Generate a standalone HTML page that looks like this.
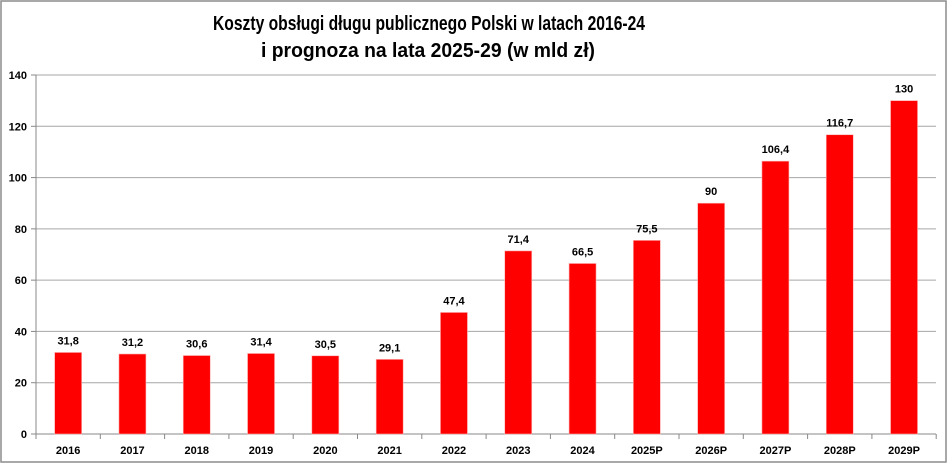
<!DOCTYPE html>
<html><head><meta charset="utf-8"><style>
html,body{margin:0;padding:0;background:#fff;}
svg{display:block;font-family:"Liberation Sans",sans-serif;}
</style></head><body>
<svg id="c" width="948" height="464" viewBox="0 0 948 464" xmlns="http://www.w3.org/2000/svg">
<rect x="1" y="1" width="945" height="461" fill="#fff" stroke="#8c8c8c" stroke-width="1.5"/>
<text x="429" y="30" text-anchor="middle" font-size="20" font-weight="bold" textLength="432" lengthAdjust="spacingAndGlyphs">Koszty obsługi długu publicznego Polski w latach 2016-24</text>
<text x="428" y="57" text-anchor="middle" font-size="20" font-weight="bold" textLength="334" lengthAdjust="spacingAndGlyphs">i prognoza na lata 2025-29 (w mld zł)</text>
<g id="g"></g>
</svg>
<script>
var g=document.getElementById('g'),h='';
var y0=434,sc=359/140,x0=36,cw=64.3;
for(var v=0;v<=140;v+=20){var y=y0-v*sc;
 if(v>0)h+='<line x1="36" x2="936" y1="'+y+'" y2="'+y+'" stroke="#a6a6a6" stroke-width="1"/>';
 h+='<line x1="31" x2="36" y1="'+y+'" y2="'+y+'" stroke="#888"/>';
 h+='<text x="27" y="'+(y+4)+'" text-anchor="end" font-size="11" font-weight="bold">'+v+'</text>';}
h+='<line x1="36" x2="36" y1="75" y2="434" stroke="#888"/><line x1="36" x2="936" y1="434" y2="434" stroke="#888"/>';
var L=['2016','2017','2018','2019','2020','2021','2022','2023','2024','2025P','2026P','2027P','2028P','2029P'];
var V=[31.8,31.2,30.6,31.4,30.5,29.1,47.4,71.4,66.5,75.5,90,106.4,116.7,130];
for(var i=0;i<14;i++){var cx=x0+cw*(i+.5),t=y0-V[i]*sc;
 h+='<line x1="'+(x0+cw*(i+1))+'" x2="'+(x0+cw*(i+1))+'" y1="434" y2="439" stroke="#888"/>';
 h+='<rect x="'+(cx-13.5)+'" y="'+t+'" width="27" height="'+(y0-t)+'" fill="#ff0000" stroke="#ffb0b0" stroke-width="0.6"/>';
 h+='<text x="'+cx+'" y="'+(t-8)+'" text-anchor="middle" font-size="11" font-weight="bold">'+String(V[i]).replace('.',',')+'</text>';
 h+='<text x="'+cx+'" y="454" text-anchor="middle" font-size="11" font-weight="bold">'+L[i]+'</text>';}
h+='<line x1="'+x0+'" x2="'+x0+'" y1="434" y2="439" stroke="#888"/>';
g.innerHTML=h;
</script>
</body></html>
